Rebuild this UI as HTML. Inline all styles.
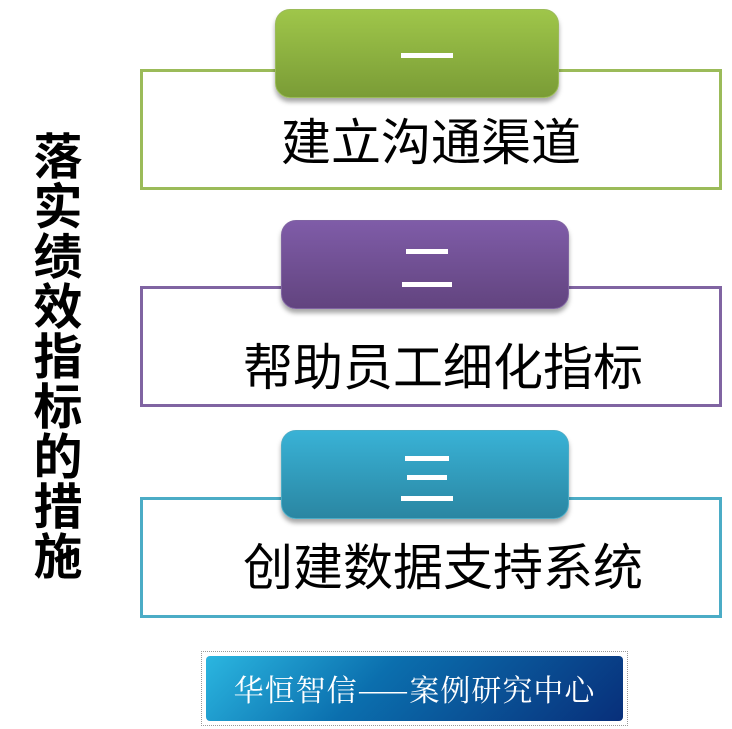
<!DOCTYPE html>
<html><head><meta charset="utf-8"><style>
html,body{margin:0;padding:0;background:#fff;}
body{width:732px;height:729px;position:relative;overflow:hidden;font-family:"Liberation Sans","Noto Sans CJK SC",sans-serif;}
.v{position:absolute;left:32px;top:133px;width:52px;font-size:49px;line-height:50px;font-weight:bold;color:#000;text-align:center;}
.box{position:absolute;left:140px;width:576px;height:115px;border:3px solid;background:#fff;}
.txt{position:absolute;left:140px;width:582px;text-align:center;font-size:50px;line-height:50px;color:#000;}
.tab{position:absolute;border-radius:15px;color:#fff;text-align:center;font-size:48px;box-shadow:0 4px 5px rgba(0,0,0,0.35);}
.banner{position:absolute;left:201px;top:651px;width:427px;height:75px;border:1px dotted #999;box-sizing:border-box;}
.banner div{position:absolute;left:4px;top:4px;right:4px;bottom:4px;border-radius:4px;background:linear-gradient(135deg,#2bb6e0 0%,#0b6fae 40%,#082f7a 100%);color:#fff;font-family:"Noto Serif CJK SC",serif;font-size:30px;line-height:65px;text-align:center;letter-spacing:1px;}
</style></head><body>
<div class="v">落实绩效指标的措施</div>

<div class="box" style="top:69px;border-color:#9bbb59;"></div>
<div class="tab" style="left:275px;top:9px;width:282px;height:87px;background:linear-gradient(#9fc64a,#7a9c36);border:1px solid #9bbb59;">
<div style="position:absolute;left:125px;top:43px;width:52px;height:5px;background:#fff"></div></div>
<div class="txt" style="top:118px;">建立沟通渠道</div>

<div class="box" style="top:286px;border-color:#8064a2;"></div>
<div class="tab" style="left:281px;top:220px;width:286px;height:87px;background:linear-gradient(#7f5ca8,#62447f);border:1px solid #8064a2;">
<div style="position:absolute;left:124px;top:28px;width:42px;height:5px;background:#fff"></div>
<div style="position:absolute;left:120px;top:61px;width:50px;height:5px;background:#fff"></div></div>
<div class="txt" style="top:343px;left:152px;">帮助员工细化指标</div>

<div class="box" style="top:497px;border-color:#4bacc6;"></div>
<div class="tab" style="left:281px;top:430px;width:286px;height:87px;background:linear-gradient(#39b2d6,#2a86a2);border:1px solid #4bacc6;">
<div style="position:absolute;left:123px;top:25px;width:44px;height:5px;background:#fff"></div>
<div style="position:absolute;left:125px;top:44px;width:40px;height:5px;background:#fff"></div>
<div style="position:absolute;left:119px;top:65px;width:52px;height:5px;background:#fff"></div></div>
<div class="txt" style="top:543px;left:152px;">创建数据支持系统</div>

<div class="banner"><div>华恒智信——案例研究中心</div></div>
</body></html>
